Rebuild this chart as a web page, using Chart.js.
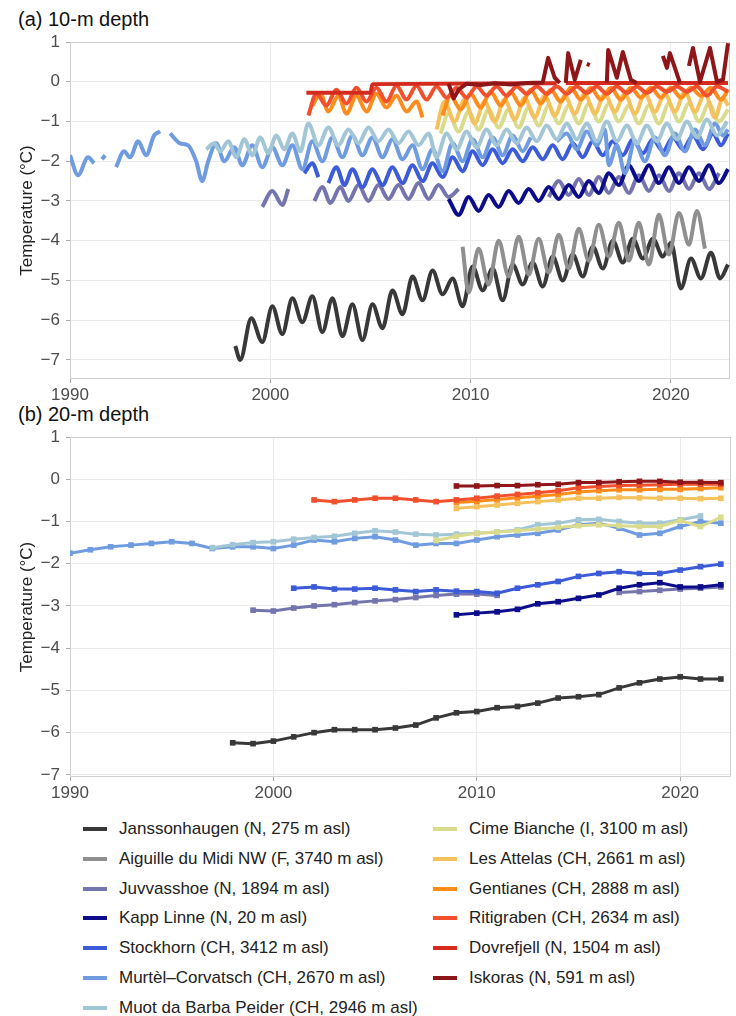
<!DOCTYPE html>
<html>
<head>
<meta charset="utf-8">
<script src="https://cdn.jsdelivr.net/npm/chart.js@4"></script>
<style>
  body { margin: 0; background: #fff; width: 736px; height: 1016px; overflow: hidden; position: relative;
         font-family: "Liberation Sans", Arial, Helvetica, sans-serif; }
  .ttl { position: absolute; left: 18px; font-size: 20px; color: #111; }
  canvas { position: absolute; left: 0; }
  .lg { position: absolute; font-size: 17px; color: #222; white-space: nowrap; line-height: 20px; }
  .sw { position: absolute; width: 24px; height: 4px; }
</style>
</head>
<body>
<div class="ttl" style="top:8px">(a) 10-m depth</div>
<canvas id="c10" width="736" height="402" style="top:0"></canvas>
<div class="ttl" style="top:403px">(b) 20-m depth</div>
<canvas id="c20" width="736" height="400" style="top:402px"></canvas>
<div id="legend"></div>
<script>
const names = [
  'Janssonhaugen (N, 275 m asl)', 'Aiguille du Midi NW (F, 3740 m asl)', 'Juvvasshoe (N, 1894 m asl)',
  'Kapp Linne (N, 20 m asl)', 'Stockhorn (CH, 3412 m asl)', 'Murtèl–Corvatsch (CH, 2670 m asl)',
  'Muot da Barba Peider (CH, 2946 m asl)', 'Cime Bianche (I, 3100 m asl)', 'Les Attelas (CH, 2661 m asl)',
  'Gentianes (CH, 2888 m asl)', 'Ritigraben (CH, 2634 m asl)', 'Dovrefjell (N, 1504 m asl)', 'Iskoras (N, 591 m asl)'
];
const colors = ['#383838', '#8f8f8f', '#7575ae', '#0d0d8c', '#3b5bd9', '#6f9be0', '#a3c6d6',
                '#d9db8d', '#f5c15c', '#ff8c1a', '#f2502d', '#d52b1e', '#8e1518'];

const xTicks = [1990, 2000, 2010, 2020];
const yTicks = [-7, -6, -5, -4, -3, -2, -1, 0, 1];

// 10-m depth: [decimal year, temperature]; null breaks the line
const jans10 = [[1998.25,-6.65],[1998.5,-7.0],[1999.05,-5.95],[1999.6,-6.55],[2000.1,-5.65],[2000.6,-6.35],[2001.1,-5.45],[2001.6,-6.05],
  [2002.1,-5.4],[2002.6,-6.3],[2003.1,-5.45],[2003.6,-6.4],[2004.1,-5.6],[2004.6,-6.5],[2005.1,-5.6],[2005.6,-6.2],[2006.1,-5.25],[2006.6,-5.85],
  [2007.1,-4.9],[2007.6,-5.5],[2008.1,-4.75],[2008.6,-5.35],[2009.1,-4.95],[2009.6,-5.65],[2010.1,-4.65],[2010.6,-5.25],[2011.1,-4.7],[2011.6,-5.5],
  [2012.1,-4.6],[2012.6,-5.1],[2013.1,-4.55],[2013.6,-5.15],[2014.1,-4.4],[2014.6,-5.0],[2015.1,-4.35],[2015.6,-4.9],[2016.1,-4.15],[2016.6,-4.7],
  [2017.1,-4.0],[2017.6,-4.55],[2018.1,-3.95],[2018.6,-4.45],[2019.1,-3.95],[2019.6,-4.4],[2020.0,-4.05],[2020.5,-5.2],[2021.0,-4.45],[2021.5,-4.95],
  [2022.0,-4.3],[2022.45,-4.95],[2022.85,-4.6]];
const aig10 = [[2009.6,-4.15],[2009.9,-5.3],[2010.4,-4.2],[2010.9,-5.1],[2011.4,-4.0],[2011.9,-4.9],[2012.4,-3.9],[2012.9,-4.85],[2013.4,-3.95],
  [2013.9,-4.8],[2014.4,-3.85],[2014.9,-4.7],[2015.4,-3.7],[2015.9,-4.5],[2016.4,-3.6],[2016.9,-4.4],[2017.4,-3.55],[2017.9,-4.5],[2018.4,-3.55],
  [2018.9,-4.6],[2019.4,-3.35],[2019.9,-4.35],[2020.4,-3.3],[2020.9,-4.1],[2021.3,-3.25],[2021.7,-4.2]];
const juvv10 = [[1999.6,-3.15],[2000.1,-2.75],[2000.6,-3.1],[2000.9,-2.7],[2001.0,null],[2001.3,-3.0],[2001.4,null],
  [2002.2,-3.0],[2002.6,-2.65],[2003.0,-3.05],[2003.5,-2.65],[2003.9,-3.0],[2004.4,-2.6],[2004.9,-3.0],[2005.4,-2.6],[2005.9,-2.95],[2006.4,-2.6],
  [2006.9,-2.95],[2007.4,-2.55],[2007.9,-2.95],[2008.4,-2.6],[2008.9,-2.9],[2009.4,-2.7],[2009.5,null],
  [2013.9,-2.9],[2014.4,-2.5],[2014.9,-2.85],[2015.4,-2.45],[2015.9,-2.85],[2016.4,-2.4],[2016.9,-2.8],[2017.4,-2.4],[2017.9,-2.8],[2018.4,-2.35],
  [2018.9,-2.75],[2019.4,-2.35],[2019.9,-2.75],[2020.4,-2.3],[2020.9,-2.7],[2021.4,-2.3],[2021.9,-2.7],[2022.4,-2.3]];
const kapp10 = [[2008.9,-2.95],[2009.4,-3.35],[2009.9,-2.9],[2010.4,-3.25],[2010.9,-2.85],[2011.4,-3.15],[2011.9,-2.75],[2012.4,-3.05],[2012.9,-2.7],
  [2013.4,-3.0],[2013.9,-2.65],[2014.4,-2.95],[2014.9,-2.6],[2015.4,-2.9],[2015.9,-2.5],[2016.4,-2.8],[2016.9,-2.3],[2017.4,-2.6],[2017.9,-2.1],
  [2018.4,-2.5],[2018.9,-2.1],[2019.4,-2.55],[2019.9,-2.15],[2020.4,-2.55],[2020.9,-2.15],[2021.4,-2.5],[2021.9,-2.1],[2022.4,-2.55],[2022.85,-2.2]];
const stock10 = [[2001.7,-2.3],[2002.1,-2.05],[2002.4,-2.4],[2002.6,null],[2002.9,-2.55],[2003.3,-2.15],[2003.7,-2.6],[2004.1,-2.2],[2004.6,-2.65],
  [2005.1,-2.2],[2005.6,-2.6],[2006.1,-2.15],[2006.6,-2.55],[2007.1,-2.1],[2007.6,-2.5],[2008.1,-2.05],[2008.6,-2.4],[2009.1,-1.9],[2009.6,-2.25],
  [2010.1,-1.75],[2010.6,-2.1],[2011.1,-1.7],[2011.6,-2.05],[2012.1,-1.7],[2012.6,-2.0],[2013.1,-1.65],[2013.6,-1.95],[2014.1,-1.6],[2014.6,-1.95],
  [2015.1,-1.55],[2015.6,-1.9],[2016.1,-1.5],[2016.6,-1.85],[2017.1,-1.5],[2017.6,-1.85],[2018.1,-1.45],[2018.6,-1.8],[2019.1,-1.45],[2019.6,-1.75],
  [2020.1,-1.4],[2020.6,-1.7],[2021.1,-1.35],[2021.6,-1.7],[2022.1,-1.3],[2022.5,-1.6],[2022.85,-1.3]];
const murt10 = [[1990.0,-1.85],[1990.4,-2.35],[1990.9,-1.9],[1991.2,-2.05],[1991.3,null],[1991.6,-1.95],[1991.75,-1.85],[1991.8,null],
  [1992.3,-2.15],[1992.7,-1.75],[1993.0,-1.9],[1993.4,-1.5],[1993.8,-1.85],[1994.2,-1.35],[1994.5,-1.25],[1994.6,null],
  [1995.0,-1.3],[1995.5,-1.55],[1995.9,-1.6],[1996.3,-2.0],[1996.6,-2.5],[1996.9,-2.0],[1997.3,-1.55],[1997.7,-2.0],[1998.2,-1.65],[1998.6,-2.1],
  [1999.1,-1.6],[1999.6,-2.15],[2000.1,-1.65],[2000.6,-2.1],[2001.1,-1.6],[2001.6,-2.2],[2002.1,-1.5],[2002.6,-2.0],[2003.1,-1.4],[2003.6,-1.9],
  [2004.1,-1.35],[2004.6,-1.85],[2005.1,-1.4],[2005.6,-1.9],[2006.1,-1.45],[2006.6,-1.95],[2007.1,-1.6],[2007.6,-2.2],[2008.1,-1.7],[2008.6,-2.25],
  [2009.1,-1.55],[2009.6,-2.0],[2010.1,-1.45],[2010.6,-1.9],[2011.1,-1.4],[2011.6,-1.85],[2012.1,-1.35],[2012.6,-1.75],[2013.0,-1.4],[2013.1,null],
  [2014.3,-1.5],[2014.8,-1.3],[2015.3,-1.7],[2015.8,-1.25],[2016.3,-1.6],[2016.7,-1.2],[2016.9,-2.1],[2017.3,-1.6],[2017.7,-2.3],[2018.2,-1.5],
  [2018.7,-2.0],[2019.2,-1.4],[2019.7,-1.85],[2020.2,-1.3],[2020.7,-1.75],[2021.2,-1.2],[2021.7,-1.6],[2022.2,-1.05],[2022.6,-1.35],[2022.85,-1.2]];
const muot10 = [[1996.8,-1.7],[1997.2,-1.55],[1997.5,-1.75],[1997.9,-1.5],[1998.3,-1.9],[1998.7,-1.45],[1999.1,-1.85],[1999.5,-1.4],[1999.9,-1.8],
  [2000.3,-1.35],[2000.7,-1.7],[2001.1,-1.3],[2001.5,-1.75],[2001.9,-1.05],[2002.4,-1.6],[2002.9,-1.15],[2003.4,-1.6],[2003.9,-1.2],[2004.4,-1.55],
  [2004.9,-1.15],[2005.4,-1.5],[2005.9,-1.2],[2006.4,-1.55],[2006.9,-1.25],[2007.4,-1.6],[2007.9,-1.3],[2008.3,-1.9],[2008.8,-1.3],[2009.3,-1.7],
  [2009.8,-1.25],[2010.3,-1.65],[2010.8,-1.2],[2011.3,-1.6],[2011.8,-1.2],[2012.3,-1.55],[2012.8,-1.15],[2013.3,-1.5],[2013.8,-1.1],[2014.3,-1.45],
  [2014.8,-1.05],[2015.3,-1.45],[2015.8,-1.05],[2016.3,-1.5],[2016.8,-1.0],[2017.3,-1.5],[2017.8,-1.1],[2018.3,-1.55],[2018.8,-1.1],[2019.3,-1.5],
  [2019.8,-1.05],[2020.3,-1.45],[2020.8,-1.0],[2021.3,-1.4],[2021.8,-0.95],[2022.3,-1.35],[2022.8,-1.0]];
const cime10 = [[2008.5,-1.3],[2008.9,-0.8],[2009.4,-1.25],[2009.9,-0.75],[2010.4,-1.2],[2010.9,-0.7],[2011.4,-1.15],[2011.9,-0.7],[2012.4,-1.15],
  [2012.9,-0.65],[2013.4,-1.1],[2013.9,-0.6],[2014.4,-1.05],[2014.9,-0.6],[2015.4,-1.05],[2015.9,-0.55],[2016.4,-1.0],[2016.9,-0.55],[2017.4,-1.0],
  [2017.9,-0.6],[2018.4,-1.05],[2018.9,-0.6],[2019.4,-1.05],[2019.9,-0.55],[2020.4,-1.0],[2020.9,-0.55],[2021.4,-1.0],[2021.9,-0.55],[2022.4,-1.0],
  [2022.85,-0.7]];
const att10 = [[2008.3,-1.2],[2008.7,-0.5],[2009.2,-1.0],[2009.7,-0.45],[2010.2,-1.05],[2010.7,-0.5],[2011.2,-1.0],[2011.7,-0.45],[2012.2,-0.95],
  [2012.7,-0.4],[2013.2,-0.9],[2013.7,-0.35],[2014.2,-0.85],[2014.7,-0.35],[2015.2,-0.8],[2015.7,-0.3],[2016.2,-0.8],[2016.7,-0.3],[2017.2,-0.75],
  [2017.7,-0.3],[2018.2,-0.8],[2018.7,-0.3],[2019.2,-0.75],[2019.7,-0.3],[2020.2,-0.75],[2020.7,-0.25],[2021.2,-0.75],[2021.7,-0.3],[2022.2,-0.9],
  [2022.6,-0.4],[2022.85,-0.6]];
const gent10 = [[2002.1,-0.6],[2002.5,-0.3],[2002.9,-0.75],[2003.4,-0.35],[2003.8,-0.8],[2004.3,-0.35],[2004.8,-0.75],[2005.3,-0.3],[2005.8,-0.65],
  [2006.3,-0.35],[2006.8,-0.75],[2007.3,-0.5],[2007.6,-0.9],[2007.75,null],[2008.6,-0.85],[2009.0,-0.35],[2009.5,-0.7],[2010.0,-0.3],[2010.5,-0.65],
  [2011.0,-0.25],[2011.5,-0.6],[2012.0,-0.25],[2012.5,-0.6],[2013.0,-0.2],[2013.5,-0.55],[2014.0,-0.2],[2014.5,-0.5],[2015.0,-0.15],[2015.5,-0.45],
  [2016.0,-0.15],[2016.5,-0.45],[2017.0,-0.15],[2017.5,-0.45],[2018.0,-0.15],[2018.5,-0.4],[2019.0,-0.15],[2019.5,-0.4],[2020.0,-0.15],[2020.5,-0.4],
  [2021.0,-0.15],[2021.5,-0.35],[2022.0,-0.15],[2022.5,-0.45],[2022.85,-0.2]];
const riti10 = [[2001.9,-0.85],[2002.3,-0.3],[2002.8,-0.6],[2003.3,-0.2],[2003.8,-0.55],[2004.3,-0.15],[2004.8,-0.5],[2005.3,-0.15],[2005.8,-0.5],
  [2006.3,-0.1],[2006.8,-0.45],[2007.3,-0.1],[2007.8,-0.45],[2008.3,-0.12],[2008.8,-0.4],[2009.3,-0.15],[2009.8,-0.4],[2010.3,-0.12],[2010.8,-0.35],
  [2011.3,-0.12],[2011.8,-0.35],[2012.3,-0.12],[2012.8,-0.3],[2013.3,-0.12],[2013.8,-0.3],[2014.3,-0.12],[2014.8,-0.3],[2015.3,-0.12],[2015.8,-0.28],
  [2016.3,-0.12],[2016.8,-0.3],[2017.3,-0.12],[2017.8,-0.28],[2018.3,-0.12],[2018.8,-0.28],[2019.3,-0.12],[2019.8,-0.25],[2020.3,-0.12],[2020.8,-0.25],
  [2021.3,-0.12],[2021.8,-0.35],[2022.3,-0.12],[2022.85,-0.25]];
const dovre10 = [[2001.8,-0.28],[2005.0,-0.28],[2005.1,-0.06],[2014.3,-0.04],[2014.4,null],[2014.75,-0.03],[2022.85,-0.03]];
const isk10 = [[2008.9,-0.05],[2009.15,-0.42],[2009.4,-0.2],[2009.8,-0.05],[2010.5,-0.08],[2011.2,-0.04],[2012.0,-0.07],[2012.8,-0.03],[2013.6,-0.02],
  [2013.87,0.6],[2014.2,0.1],[2014.45,-0.03],[2014.5,null],
  [2014.75,-0.03],[2014.87,0.72],[2015.2,0.05],[2015.5,0.55],[2015.6,null],[2015.8,0.45],[2015.95,0.42],[2016.0,null],
  [2016.8,-0.02],[2016.87,0.8],[2017.3,0.1],[2017.6,0.75],[2018.0,0.05],[2018.29,-0.03],[2018.3,null],
  [2019.6,0.65],[2019.8,0.35],[2019.95,0.72],[2020.45,-0.03],[2020.5,null],
  [2020.9,0.4],[2021.1,0.85],[2021.45,0.0],[2021.95,0.85],[2022.3,0.0],[2022.6,0.05],[2022.85,0.97]];

// 20-m depth: annual means
const years20 = [1990,1991,1992,1993,1994,1995,1996,1997,1998,1999,2000,2001,2002,2003,2004,2005,2006,2007,2008,2009,2010,
  2011,2012,2013,2014,2015,2016,2017,2018,2019,2020,2021,2022];
const jans20 = [null,null,null,null,null,null,null,null,-6.24,-6.26,-6.2,-6.1,-6.0,-5.93,-5.93,-5.93,-5.89,-5.82,-5.65,-5.53,-5.5,
  -5.41,-5.38,-5.3,-5.18,-5.15,-5.1,-4.94,-4.82,-4.73,-4.68,-4.73,-4.73];
const juvv20 = [null,null,null,null,null,null,null,null,null,-3.1,-3.12,-3.05,-3.0,-2.97,-2.92,-2.88,-2.85,-2.8,-2.75,-2.72,-2.72,
  -2.75,null,null,null,null,null,-2.68,-2.66,-2.63,-2.6,-2.58,-2.55];
const kapp20 = [null,null,null,null,null,null,null,null,null,null,null,null,null,null,null,null,null,null,null,-3.21,-3.17,
  -3.14,-3.08,-2.95,-2.9,-2.82,-2.74,-2.58,-2.5,-2.45,-2.55,-2.55,-2.5];
const stock20 = [null,null,null,null,null,null,null,null,null,null,null,-2.58,-2.55,-2.6,-2.6,-2.58,-2.62,-2.66,-2.62,-2.65,-2.66,
  -2.7,-2.58,-2.5,-2.42,-2.3,-2.23,-2.19,-2.23,-2.23,-2.15,-2.07,-2.01];
const murt20 = [-1.75,-1.67,-1.6,-1.56,-1.52,-1.48,-1.52,-1.64,-1.6,-1.6,-1.64,-1.56,-1.44,-1.48,-1.4,-1.36,-1.44,-1.56,-1.52,-1.52,-1.44,
  -1.36,-1.32,-1.28,-1.2,-1.08,-1.04,-1.16,-1.32,-1.28,-1.12,-1.0,-1.04];
const muot20 = [null,null,null,null,null,null,null,-1.62,-1.55,-1.5,-1.48,-1.42,-1.38,-1.35,-1.28,-1.22,-1.25,-1.3,-1.32,-1.3,-1.28,
  -1.25,-1.2,-1.08,-1.04,-0.96,-0.95,-1.0,-1.04,-1.04,-0.96,-0.87,null];
const cime20 = [null,null,null,null,null,null,null,null,null,null,null,null,null,null,null,null,null,null,-1.45,-1.35,-1.28,
  -1.25,-1.22,-1.18,-1.14,-1.1,-1.08,-1.1,-1.12,-1.12,-0.98,-1.12,-0.9];
const att20 = [null,null,null,null,null,null,null,null,null,null,null,null,null,null,null,null,null,null,null,-0.69,-0.65,
  -0.61,-0.57,-0.53,-0.49,-0.45,-0.45,-0.43,-0.44,-0.45,-0.45,-0.46,-0.45];
const gent20 = [null,null,null,null,null,null,null,null,null,null,null,null,null,null,null,null,null,null,null,-0.55,-0.52,
  -0.48,-0.44,-0.4,-0.36,-0.3,-0.27,-0.25,-0.25,-0.24,-0.24,-0.22,-0.2];
const riti20 = [null,null,null,null,null,null,null,null,null,null,null,null,-0.49,-0.53,-0.49,-0.45,-0.45,-0.49,-0.53,-0.49,-0.45,
  -0.4,-0.36,-0.32,-0.27,-0.2,-0.17,-0.15,-0.14,-0.13,-0.12,-0.12,-0.12];
const isk20 = [null,null,null,null,null,null,null,null,null,null,null,null,null,null,null,null,null,null,null,-0.16,-0.16,
  -0.15,-0.15,-0.13,-0.12,-0.08,-0.08,-0.06,-0.05,-0.05,-0.07,-0.07,-0.08];

const series10 = [jans10, aig10, juvv10, kapp10, stock10, murt10, muot10, cime10, att10, gent10, riti10, dovre10, isk10];
const series20 = [jans20, null, juvv20, kapp20, stock20, murt20, muot20, cime20, att20, gent20, riti20, null, isk20];

const FONT = '"Liberation Sans", Arial, Helvetica, sans-serif';
const minus = v => (v < 0 ? '\u2212' + Math.abs(v) : String(v));

const frame = {
  id: 'frame',
  beforeDatasetsDraw(chart) {
    const { ctx, chartArea: a } = chart;
    ctx.save();
    ctx.strokeStyle = '#d2d2d2';
    ctx.lineWidth = 1;
    ctx.strokeRect(a.left + 0.5, a.top + 0.5, a.right - a.left - 1, a.bottom - a.top - 1);
    ctx.restore();
  }
};

function makeChart(id, datasets, o) {
  return new Chart(document.getElementById(id), {
    type: 'line',
    data: { datasets },
    plugins: [frame],
    options: {
      responsive: false,
      animation: false,
      layout: { padding: { top: o.top, right: o.right, left: 0, bottom: 0 } },
      plugins: { legend: { display: false }, tooltip: { enabled: false } },
      scales: {
        x: {
          type: 'linear', min: 1990, max: o.xmax,
          afterBuildTicks: s => { s.ticks = xTicks.map(v => ({ value: v })); },
          afterFit: s => { s.height = o.xh; },
          grid: { color: '#ebebeb', tickLength: 4, tickColor: '#aaa' },
          border: { display: false },
          ticks: { font: { family: FONT, size: 17 }, color: '#4d4d4d', padding: 2, maxRotation: 0,
                   callback: v => String(v) }
        },
        y: {
          min: o.ymin, max: 1,
          afterBuildTicks: s => { s.ticks = yTicks.map(v => ({ value: v })); },
          afterFit: s => { s.width = 70; },
          grid: { color: '#ebebeb', tickLength: 4, tickColor: '#aaa' },
          border: { display: false },
          ticks: { font: { family: FONT, size: 17 }, color: '#4d4d4d', padding: 6, callback: v => minus(v) },
          title: { display: true, text: 'Temperature (°C)', font: { family: FONT, size: 17 }, color: '#222',
                   padding: { top: 17, bottom: 0 } }
        }
      }
    }
  });
}

// Iskoras (last series) has sharp spikes, so it is drawn with straight segments
const ds10 = series10.map((s, i) => ({
  data: s.map(p => ({ x: p[0], y: p[1] })),
  borderColor: colors[i], borderWidth: 4, pointRadius: 0,
  cubicInterpolationMode: i === 12 ? 'default' : 'monotone', tension: 0,
  borderJoinStyle: 'round', spanGaps: false,
  order: names.length - i
}));
const ds20 = [];
series20.forEach((s, i) => {
  if (!s) return;
  ds20.push({
    data: years20.map((yr, k) => ({ x: yr, y: s[k] })),
    borderColor: colors[i], backgroundColor: colors[i], borderWidth: 3,
    pointStyle: 'rect', pointRadius: 4, pointBorderWidth: 0,
    spanGaps: false, order: names.length - i
  });
});

makeChart('c10', ds10, { top: 42, right: 6, xh: 23, xmax: 2022.95, ymin: -7.48 });
makeChart('c20', ds20, { top: 35, right: 5, xh: 25, xmax: 2022.5, ymin: -7.05 });

// legend, two columns
const lg = document.getElementById('legend');
names.forEach((n, i) => {
  const col = i < 7 ? 0 : 1;
  const row = col ? i - 7 : i;
  const cy = 829 + row * 29.8;
  const sx = col ? 433 : 83;
  const sw = document.createElement('div');
  sw.className = 'sw';
  sw.style.left = sx + 'px';
  sw.style.top = (cy - 2) + 'px';
  sw.style.background = colors[i];
  lg.appendChild(sw);
  const t = document.createElement('div');
  t.className = 'lg';
  t.style.left = (sx + 36) + 'px';
  t.style.top = (cy - 10) + 'px';
  t.textContent = n;
  lg.appendChild(t);
});
</script>
</body>
</html>
